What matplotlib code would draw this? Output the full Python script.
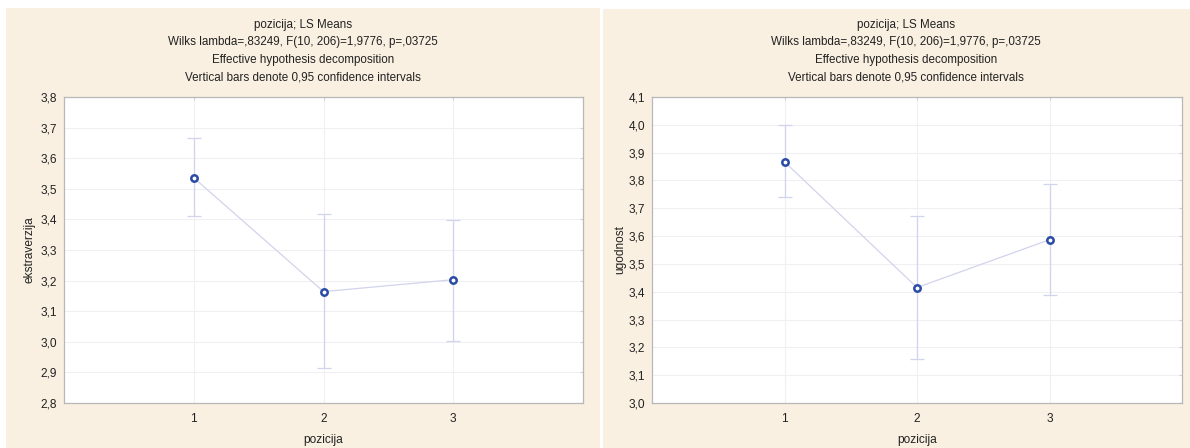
import matplotlib
matplotlib.use("Agg")
import matplotlib.pyplot as plt
from matplotlib.patches import Rectangle

plt.rcParams['font.family'] = ['Liberation Sans', 'DejaVu Sans']

# ---- data ----
positions = [1, 2, 3]
xtick_labels = ["1", "2", "3"]

ekstraverzija_mean = [3.536, 3.164, 3.203]
ekstraverzija_low = [3.410, 2.913, 3.004]
ekstraverzija_high = [3.667, 3.418, 3.399]

ugodnost_mean = [3.867, 3.415, 3.587]
ugodnost_low = [3.739, 3.159, 3.387]
ugodnost_high = [3.998, 3.671, 3.786]

title_lines = [
    "pozicija; LS Means",
    "Wilks lambda=,83249, F(10, 206)=1,9776, p=,03725",
    "Effective hypothesis decomposition",
    "Vertical bars denote 0,95 confidence intervals",
]

left_yticks = [2.8, 2.9, 3.0, 3.1, 3.2, 3.3, 3.4, 3.5, 3.6, 3.7, 3.8]
right_yticks = [3.0, 3.1, 3.2, 3.3, 3.4, 3.5, 3.6, 3.7, 3.8, 3.9, 4.0, 4.1]

W, H = 1190, 448
fig = plt.figure(figsize=(W / 100, H / 100), dpi=100)
fig.patch.set_facecolor("white")

BEIGE = "#f9f0e1"
MARK = "#2b4ba6"
LINEC = "#d2d3ec"
GRID = "#efeff4"
SPINE = "#b8b8b8"


def fx(px):
    return px / W


def fy(py):
    return 1 - py / H


# beige panels
fig.add_artist(Rectangle((fx(6), fy(448)), fx(600) - fx(6), fy(8) - fy(448),
                         transform=fig.transFigure, facecolor=BEIGE,
                         edgecolor="none", zorder=0))
fig.add_artist(Rectangle((fx(603), fy(448)), fx(1190) - fx(603), fy(9) - fy(448),
                         transform=fig.transFigure, facecolor=BEIGE,
                         edgecolor="none", zorder=0))


def panel(ax_px, means, lows, highs, yticks, ylabel, title_cx, ylabel_x):
    x0, y0, x1, y1 = ax_px
    ax = fig.add_axes([fx(x0), fy(y1), fx(x1) - fx(x0), fy(y0) - fy(y1)])
    ax.set_facecolor("white")
    errs = [[m - l for m, l in zip(means, lows)],
            [h - m for m, h in zip(means, highs)]]
    ax.errorbar(positions, means, yerr=errs, fmt="none", ecolor=LINEC,
                elinewidth=0.9, capsize=4.7, capthick=0.9, zorder=3)
    ax.plot(positions, means, color=LINEC, lw=0.9, zorder=4)
    ax.plot(positions, means, linestyle="none", marker="o", markersize=4.6,
            markerfacecolor="white", markeredgecolor=MARK,
            markeredgewidth=1.8, zorder=5)
    ax.set_xlim(0, 4)
    ax.set_ylim(yticks[0], yticks[-1])
    ax.set_xticks(positions)
    ax.set_xticklabels(xtick_labels)
    ax.set_yticks(yticks)
    ax.set_yticklabels([f"{t:.1f}".replace(".", ",") for t in yticks])
    ax.grid(True, color=GRID, lw=0.8)
    ax.set_axisbelow(True)
    for s in ax.spines.values():
        s.set_color(SPINE)
        s.set_linewidth(0.9)
    ax.tick_params(axis="both", which="both", length=0, labelsize=8.6,
                   colors="#222222", pad=5)
    ax.tick_params(axis="x", pad=7)
    ax.tick_params(right=True, top=True, direction="in", length=2.5,
                   width=0.8, color="#d4d4d4", labelright=False, labeltop=False)
    ax.tick_params(left=False, bottom=False)
    ax.set_xlabel("pozicija", fontsize=8.6, color="#222222", labelpad=7)
    fig.text(fx(ylabel_x), fy((y0 + y1) / 2), ylabel, rotation=90,
             ha="center", va="center", fontsize=8.6, color="#222222")
    for i, line in enumerate(title_lines):
        fig.text(fx(title_cx), fy(25 + i * 17.5), line, ha="center",
                 va="center", fontsize=8.4, color="#222222")
    return ax


panel((64, 97, 583, 403), ekstraverzija_mean, ekstraverzija_low,
      ekstraverzija_high, left_yticks, "ekstraverzija", 303, 30)
panel((652, 97, 1182, 403), ugodnost_mean, ugodnost_low,
      ugodnost_high, right_yticks, "ugodnost", 906, 620)

fig.savefig("out.png", dpi=100, facecolor="white")
